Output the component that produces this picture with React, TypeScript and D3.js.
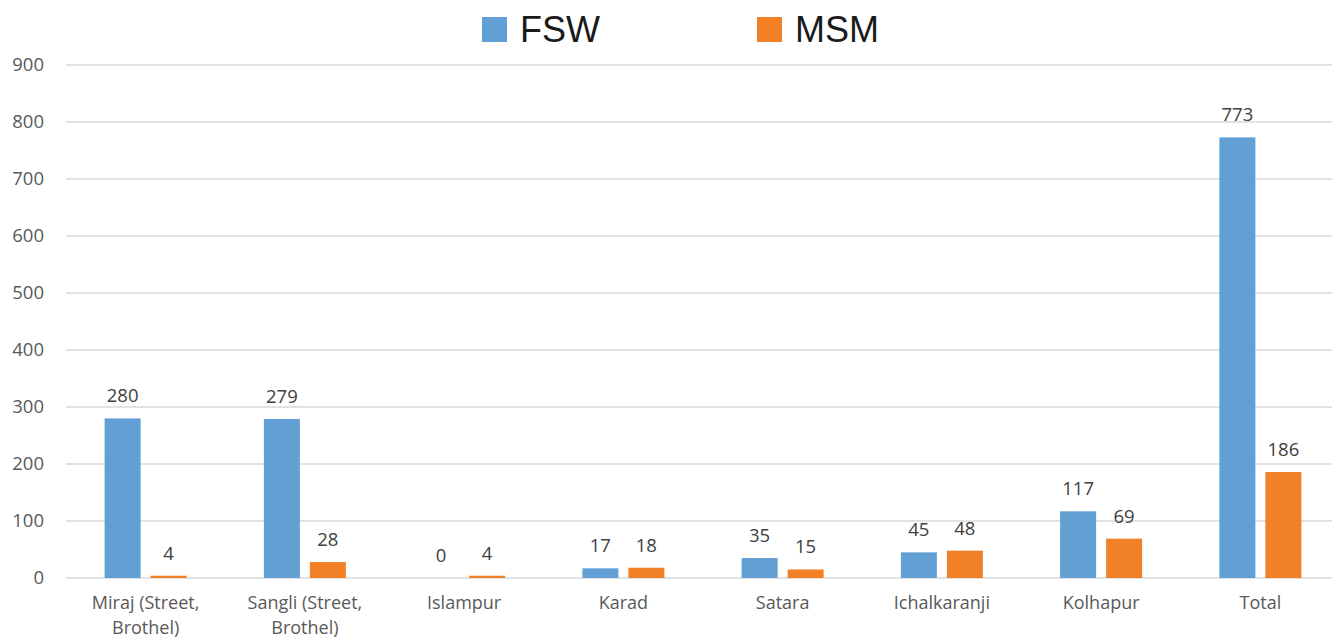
import React from 'react';
import * as d3 from 'd3';

const categories = [
  'Miraj (Street, Brothel)',
  'Sangli (Street, Brothel)',
  'Islampur',
  'Karad',
  'Satara',
  'Ichalkaranji',
  'Kolhapur',
  'Total',
];
const categoryLines = [
  ['Miraj (Street,', 'Brothel)'],
  ['Sangli (Street,', 'Brothel)'],
  ['Islampur'],
  ['Karad'],
  ['Satara'],
  ['Ichalkaranji'],
  ['Kolhapur'],
  ['Total'],
];
const fswValues = [280, 279, 0, 17, 35, 45, 117, 773];
const msmValues = [4, 28, 4, 18, 15, 48, 69, 186];
const seriesNames = ['FSW', 'MSM'];
const yTicks = [0, 100, 200, 300, 400, 500, 600, 700, 800, 900];

const WIDTH = 1332;
const HEIGHT = 639;
const colors = ['#629fd5', '#f28026'];
const labelFont = '"Open Sans", "Noto Sans", sans-serif';

export default function App() {
  const x = d3.scaleBand<string>().domain(categories).range([66, 1340]);
  const y = d3.scaleLinear().domain([0, 900]).range([578, 65]);
  const barW = 36;
  const gap = 10;
  const series = [fswValues, msmValues];

  return (
    <svg width={WIDTH} height={HEIGHT} style={{ display: 'block', position: 'absolute', left: 0, top: 0 }}>
      <rect width={WIDTH} height={HEIGHT} fill="#fff" />
      {/* gridlines + y labels */}
      {yTicks.map((t) => (
        <g key={t}>
          <line x1={66} x2={WIDTH} y1={y(t)} y2={y(t)} stroke="#d9d9d9" strokeWidth={1.5} />
          <text x={44} y={y(t)} dy="0.35em" textAnchor="end" fontSize={18.5} fill="#595959" fontFamily={labelFont}>
            {t}
          </text>
        </g>
      ))}
      {/* bars */}
      {categories.map((c, i) => {
        const cx = (x(c) ?? 0) + x.bandwidth() / 2;
        return (
          <g key={c}>
            {series.map((vals, s) => {
              const bx = s === 0 ? cx - gap / 2 - barW : cx + gap / 2;
              const v = vals[i];
              return (
                <g key={s}>
                  <rect x={bx} y={y(v)} width={barW} height={y(0) - y(v)} fill={colors[s]} />
                  <text x={bx + barW / 2} y={y(v) - 16} textAnchor="middle" fontSize={18.5} fill="#404040" fontFamily={labelFont}>
                    {v}
                  </text>
                </g>
              );
            })}
            {categoryLines[i].map((line, k) => (
              <text key={k} x={cx} y={609 + k * 25} textAnchor="middle" fontSize={18} fill="#595959" fontFamily={labelFont}>
                {line}
              </text>
            ))}
          </g>
        );
      })}
      {/* legend */}
      {seriesNames.map((n, s) => (
        <g key={n} transform={`translate(${482 + s * 275},17)`}>
          <rect width={25} height={25} fill={colors[s]} />
          <text x={38} y={25} fontSize={36} fill="#1a1a1a" fontFamily='"Liberation Sans", Arial, sans-serif'>
            {n}
          </text>
        </g>
      ))}
    </svg>
  );
}
